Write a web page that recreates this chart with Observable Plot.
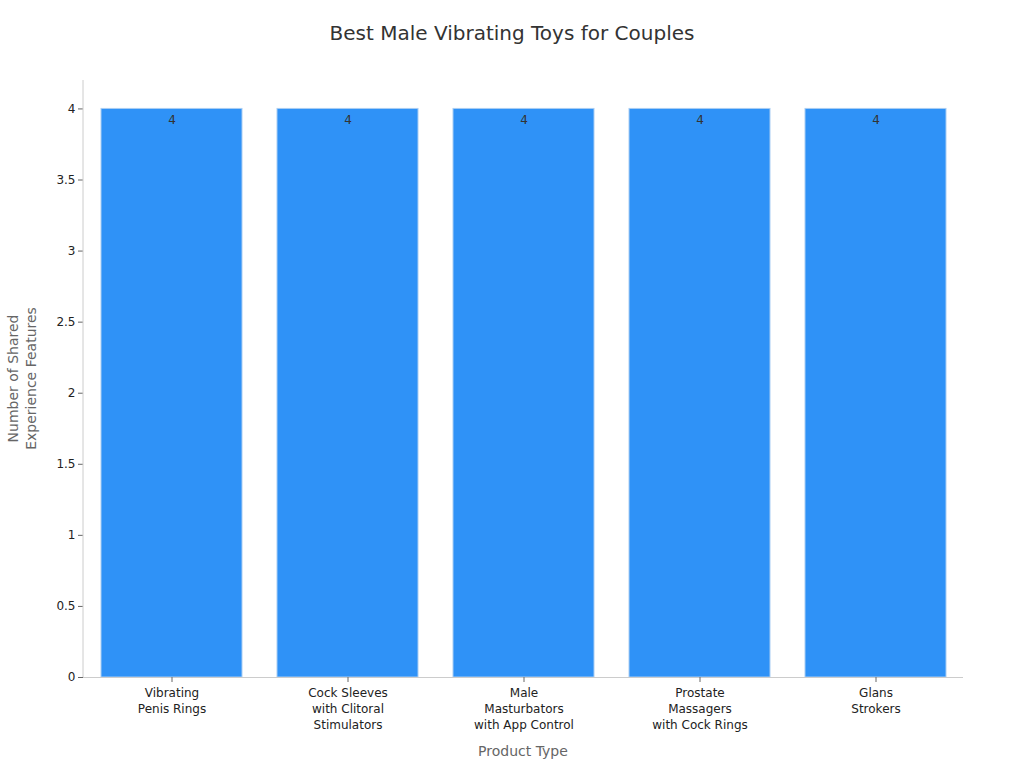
<!DOCTYPE html>
<html>
<head>
<meta charset="utf-8">
<script src="https://cdn.jsdelivr.net/npm/d3@7"></script>
<script src="https://cdn.jsdelivr.net/npm/@observablehq/plot@0.6"></script>
<style>
  body { margin: 0; background: #fff; font-family: "DejaVu Sans", sans-serif; }
  #title { height: 66px; line-height: 66px; text-align: center; font-size: 20px; color: #333; }
</style>
</head>
<body>
<div id="title">Best Male Vibrating Toys for Couples</div>
<div id="chart"></div>
<script>
const categories = [
  "Vibrating\nPenis Rings",
  "Cock Sleeves\nwith Clitoral\nStimulators",
  "Male\nMasturbators\nwith App Control",
  "Prostate\nMassagers\nwith Cock Rings",
  "Glans\nStrokers"
];
const values = [4, 4, 4, 4, 4];
const yTicks = [0, 0.5, 1, 1.5, 2, 2.5, 3, 3.5, 4];
const xLabel = "Product Type";
const yLabelLines = ["Number of Shared", "Experience Features"];

const data = categories.map((c, i) => ({category: c, value: values[i]}));

const W = 1024, H = 702;
const mL = 83, mR = 61, mT = 14, mB = 91;

const plot = Plot.plot({
  width: W,
  height: H,
  marginLeft: mL,
  marginRight: mR,
  marginTop: mT,
  marginBottom: mB,
  style: { fontFamily: "DejaVu Sans, sans-serif", fontSize: "12px", color: "#222", background: "#fff" },
  x: { domain: categories, paddingInner: 0.2, paddingOuter: 0.1, label: null },
  y: { domain: [0, 4.2], label: null },
  marks: [
    Plot.barY(data, { x: "category", y: "value", fill: "#2f92f7", stroke: "#a9cdf3", strokeWidth: 1 }),
    Plot.text(data, { x: "category", y: "value", text: d => String(d.value), dy: 11, fill: "#333", fontSize: 12 }),
    Plot.ruleY([0], { stroke: "#ccc" }),
    Plot.axisY({ ticks: yTicks, tickFormat: d => String(d), tickSize: 5, tickPadding: 3, stroke: "#666", fill: "#222", fontSize: 12, label: null }),
    Plot.axisX({ tickSize: 5, tickPadding: 3, stroke: "#666", fill: "#222", fontSize: 12, lineHeight: 1.33, label: null })
  ]
});

document.getElementById("chart").appendChild(plot);

const svg = d3.select(plot);
// left axis line
svg.append("line")
  .attr("x1", mL).attr("x2", mL)
  .attr("y1", mT).attr("y2", H - mB)
  .attr("stroke", "#ccc");
// x axis title
svg.append("text")
  .attr("x", mL + (W - mL - mR) / 2)
  .attr("y", 686)
  .attr("text-anchor", "middle")
  .attr("dominant-baseline", "middle")
  .attr("fill", "#666")
  .attr("font-size", 14)
  .text(xLabel);
// y axis title (two lines)
const yMid = mT + (H - mT - mB) / 2;
const yt = svg.append("text")
  .attr("transform", `translate(22, ${yMid}) rotate(-90)`)
  .attr("text-anchor", "middle")
  .attr("fill", "#666")
  .attr("font-size", 14);
yLabelLines.forEach((line, i) => {
  yt.append("tspan")
    .attr("x", 0)
    .attr("y", (i - 0.5) * 18 + 5)
    .text(line);
});
</script>
</body>
</html>
